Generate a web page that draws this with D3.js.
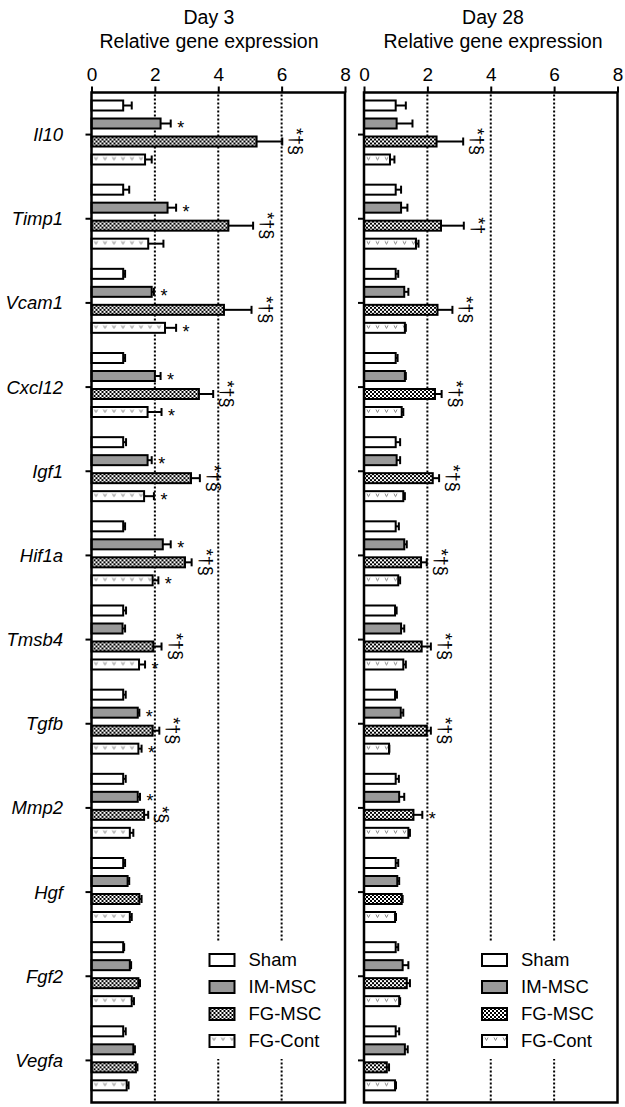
<!DOCTYPE html>
<meta charset="utf-8">
<style type="text/css">
  body { margin: 0; background: #fff; }
  text { font-family: "Liberation Sans", Arial, sans-serif; fill: #000; }
  .gene { font-style: italic; font-size: 18.5px; }
  .title { font-size: 19.5px; }
  .tick-label { font-size: 19px; }
  .legend-label { font-size: 18.5px; }
  .sig { font-size: 18px; }
  .grid { stroke: #000; stroke-width: 2; stroke-dasharray: 2,2; }
  .bar { stroke: #000; stroke-width: 2; }
  .err { stroke: #000; stroke-width: 2; }
</style>
<body></body>
<script src="https://d3js.org/d3.v7.min.js"></script>
<script>
// categories
var genes = ["Il10", "Timp1", "Vcam1", "Cxcl12", "Igf1", "Hif1a", "Tmsb4", "Tgfb", "Mmp2", "Hgf", "Fgf2", "Vegfa"];
var groups = ["Sham", "IM-MSC", "FG-MSC", "FG-Cont"];
var xTicks = [0, 2, 4, 6, 8];

// Day 3 (mean, +SE)
var sham3    = [1.00, 1.00, 1.00, 1.00, 1.00, 1.00, 1.00, 1.00, 1.00, 1.00, 1.00, 1.00];
var sham3Err = [0.27, 0.19, 0.06, 0.06, 0.09, 0.06, 0.09, 0.08, 0.08, 0.06, 0.03, 0.08];
var im3      = [2.18, 2.40, 1.90, 2.00, 1.77, 2.25, 0.98, 1.46, 1.46, 1.14, 1.21, 1.32];
var im3Err   = [0.32, 0.27, 0.07, 0.18, 0.13, 0.25, 0.08, 0.05, 0.07, 0.05, 0.04, 0.05];
var fgm3     = [5.21, 4.32, 4.18, 3.39, 3.14, 2.95, 1.95, 1.93, 1.66, 1.51, 1.48, 1.40];
var fgm3Err  = [0.81, 0.78, 0.87, 0.45, 0.28, 0.21, 0.26, 0.21, 0.13, 0.07, 0.05, 0.05];
var fgc3     = [1.69, 1.79, 2.32, 1.77, 1.66, 1.93, 1.50, 1.48, 1.21, 1.21, 1.27, 1.11];
var fgc3Err  = [0.21, 0.48, 0.35, 0.44, 0.31, 0.18, 0.19, 0.10, 0.11, 0.06, 0.07, 0.06];

// Day 28 (mean, +SE)
var sham28    = [1.00, 1.00, 1.00, 1.00, 1.00, 1.00, 0.98, 0.98, 1.00, 1.00, 1.00, 1.00];
var sham28Err = [0.32, 0.17, 0.08, 0.06, 0.14, 0.10, 0.05, 0.06, 0.10, 0.08, 0.08, 0.11];
var im28      = [1.03, 1.17, 1.27, 1.29, 1.03, 1.27, 1.17, 1.16, 1.11, 1.05, 1.22, 1.29];
var im28Err   = [0.50, 0.20, 0.13, 0.03, 0.11, 0.08, 0.10, 0.08, 0.16, 0.06, 0.18, 0.09];
var fgm28     = [2.29, 2.43, 2.32, 2.24, 2.17, 1.80, 1.82, 1.98, 1.56, 1.19, 1.35, 0.72];
var fgm28Err  = [0.84, 0.72, 0.47, 0.21, 0.20, 0.18, 0.29, 0.13, 0.28, 0.03, 0.10, 0.07];
var fgc28     = [0.82, 1.64, 1.29, 1.19, 1.24, 1.08, 1.24, 0.79, 1.40, 0.98, 1.11, 0.98];
var fgc28Err  = [0.14, 0.08, 0.03, 0.05, 0.05, 0.06, 0.08, 0.01, 0.05, 0.03, 0.03, 0.03];

// significance marks
var none    = ["", "", "", "", "", "", "", "", "", "", "", ""];
var im3Sig  = ["*", "*", "*", "*", "*", "*", "", "*", "*", "", "", ""];
var fgm3Sig = ["*†§", "*†§", "*†§", "*†§", "*†§", "*†§", "*†§", "*†§", "*§", "", "", ""];
var fgc3Sig = ["", "", "*", "*", "*", "*", "*", "*", "", "", "", ""];
var fgm28Sig = ["*†§", "*†", "*†§", "*†§", "*†§", "*†§", "*†§", "*†§", "*", "", "", ""];

var W = 625, H = 1107;
var plotTop = 92.5, plotBottom = 1102.5;

var fills = {
    "Sham": "#fff",
    "IM-MSC": "#999",
    "FG-MSC": "url(#checker)",
    "FG-Cont": "url(#vmark)"
};

var svg = d3.select("body").append("svg")
    .attr("width", W)
    .attr("height", H);

// patterns
var defs = svg.append("defs");
var chk = defs.append("pattern").attr("id", "checker")
    .attr("patternUnits", "userSpaceOnUse").attr("width", 4).attr("height", 4);
chk.append("rect").attr("width", 4).attr("height", 4).attr("fill", "#fff");
chk.append("rect").attr("width", 2).attr("height", 2).attr("fill", "#000");
chk.append("rect").attr("x", 2).attr("y", 2).attr("width", 2).attr("height", 2).attr("fill", "#000");

var vm = defs.append("pattern").attr("id", "vmark")
    .attr("patternUnits", "userSpaceOnUse").attr("width", 9).attr("height", 10);
vm.append("rect").attr("width", 9).attr("height", 10).attr("fill", "#fff");
vm.append("path").attr("d", "M3,2.5 L4.5,5.5 L6,2.5")
    .attr("fill", "none").attr("stroke", "#888").attr("stroke-width", 1);

var y = d3.scaleBand().domain(genes).range([plotTop, plotBottom]);
var yInner = d3.scaleBand().domain(groups).range([4, 76]).paddingInner(1 / 3).paddingOuter(1 / 6);

// gene labels
svg.append("g").selectAll("text")
    .data(genes)
    .enter().append("text")
    .attr("class", "gene")
    .attr("x", 63)
    .attr("y", d => y(d) + y.bandwidth() / 2)
    .attr("dy", "0.35em")
    .attr("text-anchor", "end")
    .text(d => d);

function drawPanel(p) {
    var x = d3.scaleLinear().domain([0, 8]).range(p.range);
    var g = svg.append("g");

    // titles
    g.append("text").attr("class", "title").attr("x", p.titleX).attr("y", 24)
        .attr("text-anchor", "middle").text(p.title);
    g.append("text").attr("class", "title").attr("x", p.titleX).attr("y", 48)
        .attr("text-anchor", "middle").text("Relative gene expression");

    // dotted grid
    g.append("g").selectAll("line")
        .data(xTicks.filter(t => t > 0 && t < 8))
        .enter().append("line")
        .attr("class", "grid")
        .attr("x1", d => x(d)).attr("x2", d => x(d))
        .attr("y1", plotTop + 2).attr("y2", plotBottom);

    // top axis
    var ax = g.append("g")
        .attr("transform", "translate(0," + plotTop + ")")
        .call(d3.axisTop(x).tickValues(xTicks).tickSize(6).tickPadding(6).tickSizeOuter(0));
    ax.select(".domain").remove();
    ax.selectAll(".tick line").attr("stroke", "#000").attr("stroke-width", 2);
    ax.selectAll(".tick text").attr("class", "tick-label")
        .attr("fill", "#000");
    ax.attr("font-family", null).attr("font-size", null);

    // legend (white box hides grid)
    var lx = x(0) + 118, ly = 960;
    g.append("rect").attr("x", x(0) + 108).attr("y", 942)
        .attr("width", 140).attr("height", 117).attr("fill", "#fff");
    var lg = g.append("g").selectAll("g")
        .data(groups)
        .enter().append("g")
        .attr("transform", (d, i) => "translate(" + lx + "," + (ly + i * 27 - 6) + ")");
    lg.append("rect").attr("class", "bar")
        .attr("width", 25).attr("height", 12)
        .attr("fill", d => fills[d]);
    lg.append("text").attr("class", "legend-label")
        .attr("x", 39).attr("y", 6).attr("dy", "0.35em")
        .text(d => d);

    // bars
    var rows = [];
    genes.forEach(function (gene, gi) {
        groups.forEach(function (grp, si) {
            rows.push({
                gene: gene, grp: grp,
                v: p.means[si][gi], e: p.errs[si][gi], sig: p.sigs[si][gi],
                cy: y(gene) + yInner(grp) + yInner.bandwidth() / 2
            });
        });
    });

    var bars = g.append("g").selectAll("g")
        .data(rows)
        .enter().append("g")
        .attr("transform", d => "translate(" + x(0) + "," + (d.cy - 5) + ")");
    bars.append("rect").attr("class", "bar")
        .attr("width", d => x(d.v) - x(0))
        .attr("height", 10)
        .attr("fill", d => fills[d.grp]);

    // error bars (upper only)
    var eb = g.append("g").selectAll("g")
        .data(rows)
        .enter().append("g");
    eb.append("line").attr("class", "err")
        .attr("x1", d => x(d.v)).attr("x2", d => x(d.v + d.e))
        .attr("y1", d => d.cy).attr("y2", d => d.cy);
    eb.append("line").attr("class", "err")
        .attr("stroke-width", 2.5)
        .attr("x1", d => x(d.v + d.e)).attr("x2", d => x(d.v + d.e))
        .attr("y1", d => d.cy - 4).attr("y2", d => d.cy + 4);

    // significance marks
    var sg = g.append("g").selectAll("text")
        .data(rows.filter(d => d.sig))
        .enter().append("text")
        .attr("class", "sig")
        .text(d => d.sig);
    sg.filter(d => d.sig === "*")
        .attr("x", d => x(d.v + d.e) + 10)
        .attr("y", d => d.cy + 10)
        .attr("text-anchor", "middle");
    sg.filter(d => d.sig !== "*")
        .attr("text-anchor", "middle")
        .attr("transform", d => "translate(" + (x(d.v + d.e) + 8) + "," + d.cy + ") rotate(90)");

    // frame
    g.append("rect")
        .attr("x", x(0)).attr("y", plotTop)
        .attr("width", x(8) - x(0)).attr("height", plotBottom - plotTop)
        .attr("fill", "none").attr("stroke", "#000").attr("stroke-width", 2.5);

    // category ticks on left edge
    g.append("g").selectAll("line")
        .data(genes)
        .enter().append("line")
        .attr("x1", x(0) - 6).attr("x2", x(0))
        .attr("y1", d => y(d) + y.bandwidth() / 2)
        .attr("y2", d => y(d) + y.bandwidth() / 2)
        .attr("stroke", "#000").attr("stroke-width", 2);
}

drawPanel({
    range: [91.5, 345], title: "Day 3", titleX: 209,
    means: [sham3, im3, fgm3, fgc3],
    errs: [sham3Err, im3Err, fgm3Err, fgc3Err],
    sigs: [none, im3Sig, fgm3Sig, fgc3Sig]
});
drawPanel({
    range: [364, 617.5], title: "Day 28", titleX: 493,
    means: [sham28, im28, fgm28, fgc28],
    errs: [sham28Err, im28Err, fgm28Err, fgc28Err],
    sigs: [none, none, fgm28Sig, none]
});
</script>
